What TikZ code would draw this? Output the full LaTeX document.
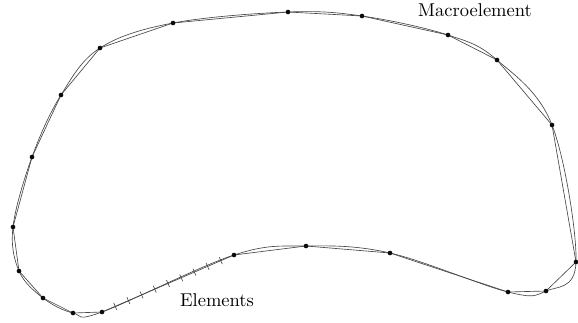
\documentclass[tikz,border=0pt]{standalone}
\usepackage{xcolor}
\usepackage{tikz}
\usetikzlibrary{calc}
\definecolor{EdgeGray}{RGB}{70,70,70}
\definecolor{NodeDot}{RGB}{10,10,10}

\begin{document}
\begin{tikzpicture}[x=0.54pt,y=-0.54pt,
    edge/.style={draw=EdgeGray,line width=0.35pt},
    dot/.style={circle,fill=NodeDot,inner sep=0pt,minimum size=2.5pt},
    tick/.style={draw=EdgeGray,line width=0.35pt}]
    \useasboundingbox (0,0) rectangle (578,322);
    % corner points of the macroelement
    \foreach \name/\px/\py in {p1/288/12,p2/362/16,p3/448/35,p4/497/60,
        p5/552/125,p6/576/262,p7/546/291,p8/508/292,p9/390/253,
        p10/306/246,p11/234/255,p12/102/312,p13/73/313,p14/43/298,
        p15/19/271,p16/13/227,p17/32/157,p18/61/95,p19/100/48,p20/173/23}
      \coordinate (\name) at (\px,\py);
    % smooth boundary
    \draw[edge] plot[smooth cycle,tension=0.6] coordinates {(p1) (p2) (p3)
      (p4) (p5) (p6) (p7) (p8) (p9) (p10) (p11) (p12) (p13) (p14) (p15)
      (p16) (p17) (p18) (p19) (p20)};
    % straight sides
    \draw[edge] (p1) -- (p2) -- (p3) -- (p4) -- (p5) -- (p6) -- (p7)
      -- (p8) -- (p9) -- (p10) -- (p11) -- (p12) -- (p13) -- (p14)
      -- (p15) -- (p16) -- (p17) -- (p18) -- (p19) -- (p20) -- cycle;
    \foreach \i in {1,...,20}
      \node[dot] (d\i) at (p\i) {};
    % element ticks
    \foreach \k in {1,...,9}{
      \coordinate (t\k) at ($(p12)!\k/10!(p11)$);
      \draw[tick] ($(t\k)!2pt!90:(p11)$) -- ($(t\k)!2pt!-90:(p11)$);
    }
    \node (macro) at (475,10) {Macroelement};
    \node (elems) at (217,300) {Elements};
  \end{tikzpicture}
\end{document}
